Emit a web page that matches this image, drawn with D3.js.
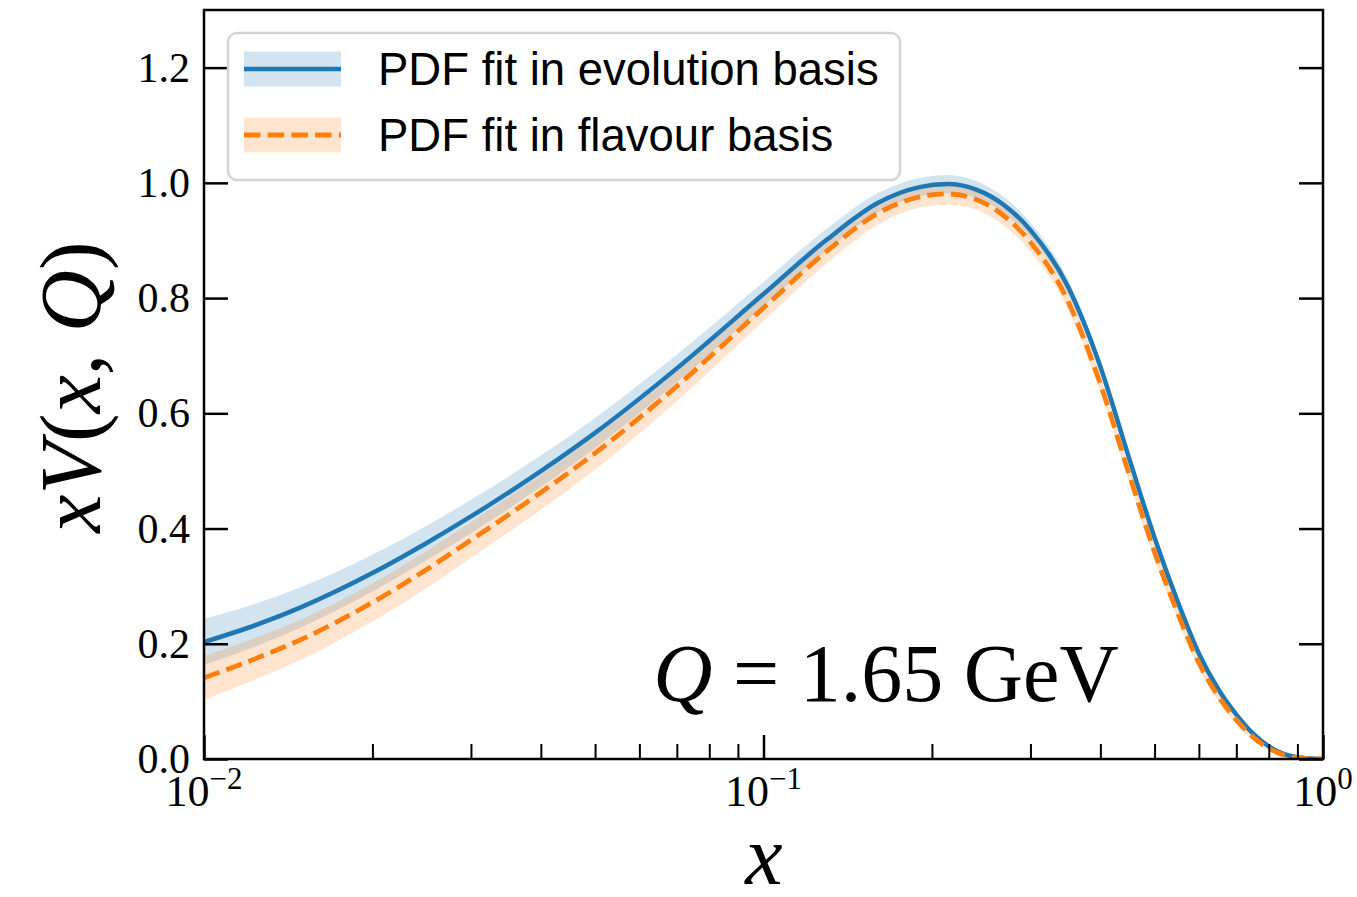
<!DOCTYPE html>
<html>
<head>
<meta charset="utf-8">
<script src="https://cdn.jsdelivr.net/npm/d3@7"></script>
<style>
  body { margin: 0; background: #fff; }
  .tick-label { font-family: "Liberation Serif", serif; fill: #000; }
  .legend-text { font-family: "Liberation Sans", Arial, sans-serif; font-size: 45.5px; fill: #000; }
</style>
</head>
<body>
<div class="chart"></div>
<script>
/*******************************/
/*            Data             */
/*******************************/

var xs = [0.01, 0.0125, 0.015, 0.02, 0.025, 0.03, 0.04, 0.05, 0.07, 0.1,
          0.13, 0.16, 0.19, 0.213, 0.24, 0.27, 0.3, 0.35, 0.4, 0.45,
          0.5, 0.55, 0.6, 0.65, 0.7, 0.75, 0.8, 0.85, 0.9, 0.95, 1.0];

// central values, evolution basis fit
var evol_cv = [0.203, 0.234, 0.2645, 0.3227, 0.375, 0.421, 0.4996, 0.566, 0.678, 0.807,
               0.902, 0.965, 0.9926, 0.9978, 0.9883, 0.9604, 0.918, 0.820, 0.681, 0.523,
               0.384, 0.273, 0.183, 0.121, 0.077, 0.044, 0.022, 0.009, 0.003, 0.0008, 0];
// one sigma half-width, evolution basis fit
var evol_err = [0.040, 0.037, 0.035, 0.032, 0.030, 0.029, 0.027, 0.026, 0.024, 0.021,
                0.019, 0.017, 0.016, 0.016, 0.015, 0.014, 0.013, 0.012, 0.011, 0.010,
                0.009, 0.008, 0.007, 0.006, 0.005, 0.004, 0.003, 0.002, 0.001, 0.0005, 0];

// central values, flavour basis fit
var flav_cv = [0.141, 0.176, 0.2085, 0.2717, 0.329, 0.380, 0.4626, 0.531, 0.647, 0.783,
               0.882, 0.947, 0.9756, 0.9808, 0.9713, 0.9414, 0.897, 0.795, 0.651, 0.495,
               0.359, 0.253, 0.167, 0.109, 0.068, 0.038, 0.0185, 0.0072, 0.0022, 0.0005, 0];
var flav_err = [0.038, 0.036, 0.035, 0.033, 0.032, 0.031, 0.030, 0.029, 0.026, 0.023,
                0.021, 0.020, 0.019, 0.019, 0.018, 0.017, 0.016, 0.015, 0.014, 0.013,
                0.012, 0.011, 0.010, 0.009, 0.008, 0.006, 0.004, 0.003, 0.002, 0.001, 0];

var y_ticks = [0.0, 0.2, 0.4, 0.6, 0.8, 1.0, 1.2];
var x_major = [0.01, 0.1, 1];
var x_major_exp = ["\u22122", "\u22121", "0"];
var x_minor = [0.02, 0.03, 0.04, 0.05, 0.06, 0.07, 0.08, 0.09,
               0.2, 0.3, 0.4, 0.5, 0.6, 0.7, 0.8, 0.9];

var legend_labels = ["PDF fit in evolution basis", "PDF fit in flavour basis"];
var blue = "#1f77b4", orange = "#ff7f0e";
var dash = "16.5,7.2";

/*******************************/
/*       Chart preparation     */
/*******************************/

var width = 1357, height = 897;
var margin = {left: 204, top: 10, right: 34, bottom: 138};
var pw = width - margin.left - margin.right,
    ph = height - margin.top - margin.bottom;

var x = d3.scaleLog().domain([0.01, 1]).range([0, pw]);
var y = d3.scaleLinear().domain([0, 1.3]).range([ph, 0]);

var svg = d3.select(".chart").append("svg")
  .attr("width", width)
  .attr("height", height);

var g = svg.append("g")
  .attr("transform", "translate(" + margin.left + "," + margin.top + ")");

g.append("clipPath").attr("id", "clip")
  .append("rect").attr("width", pw).attr("height", ph);

function rows(cv, err) {
  return xs.map(function(d, i) { return {x: d, v: cv[i], e: err[i]}; });
}

var area = d3.area()
  .x(function(d) { return x(d.x); })
  .y0(function(d) { return y(d.v - d.e); })
  .y1(function(d) { return y(d.v + d.e); })
  .curve(d3.curveMonotoneX);

var line = d3.line()
  .x(function(d) { return x(d.x); })
  .y(function(d) { return y(d.v); })
  .curve(d3.curveMonotoneX);

var plot = g.append("g").attr("clip-path", "url(#clip)");

var evol = rows(evol_cv, evol_err), flav = rows(flav_cv, flav_err);

plot.append("path").attr("d", area(evol)).attr("fill", blue).attr("fill-opacity", 0.2);
plot.append("path").attr("d", area(flav)).attr("fill", orange).attr("fill-opacity", 0.2);
plot.append("path").attr("d", line(evol)).attr("fill", "none")
  .attr("stroke", blue).attr("stroke-width", 4.5);
plot.append("path").attr("d", line(flav)).attr("fill", "none")
  .attr("stroke", orange).attr("stroke-width", 4.8)
  .attr("stroke-dasharray", dash);

/*******************************/
/*            Axes             */
/*******************************/

// ticks point inwards, labels drawn by hand
g.append("g").call(d3.axisLeft(y).tickValues(y_ticks).tickSize(-24).tickFormat(""))
  .call(function(a) { a.select(".domain").remove(); })
  .selectAll("line").attr("stroke-width", 2.5);
g.append("g").attr("transform", "translate(" + pw + ",0)")
  .call(d3.axisRight(y).tickValues(y_ticks).tickSize(-24).tickFormat(""))
  .call(function(a) { a.select(".domain").remove(); })
  .selectAll("line").attr("stroke-width", 2.5);
g.append("g").attr("transform", "translate(0," + ph + ")")
  .call(d3.axisBottom(x).tickValues(x_major).tickSize(-24).tickFormat(""))
  .call(function(a) { a.select(".domain").remove(); })
  .selectAll("line").attr("stroke-width", 2.5);
g.append("g").attr("transform", "translate(0," + ph + ")")
  .call(d3.axisBottom(x).tickValues(x_minor).tickSize(-15).tickFormat(""))
  .call(function(a) { a.select(".domain").remove(); })
  .selectAll("line").attr("stroke-width", 2);

g.append("rect").attr("width", pw).attr("height", ph)
  .attr("fill", "none").attr("stroke", "#000").attr("stroke-width", 2.5);

g.selectAll(".ylab").data(y_ticks).enter().append("text")
  .attr("class", "tick-label")
  .attr("x", -14)
  .attr("y", function(d) { return y(d) + 14; })
  .attr("text-anchor", "end")
  .style("font-size", "42px")
  .text(function(d) { return d.toFixed(1); });

var xl = g.selectAll(".xlab").data(x_major).enter().append("text")
  .attr("class", "tick-label")
  .attr("x", function(d) { return x(d); })
  .attr("y", ph + 47)
  .attr("text-anchor", "middle")
  .style("font-size", "44px");
xl.append("tspan").text("10");
xl.append("tspan").attr("dy", -17).style("font-size", "31px")
  .text(function(d, i) { return x_major_exp[i]; });

// axis titles
svg.append("text")
  .attr("class", "tick-label")
  .attr("x", 764).attr("y", 884)
  .attr("text-anchor", "middle")
  .style("font-size", "84px").style("font-style", "italic")
  .text("x");

var yt = svg.append("text")
  .attr("class", "tick-label")
  .attr("transform", "translate(100,387) rotate(-90)")
  .attr("text-anchor", "middle")
  .style("font-size", "86px");
yt.append("tspan").style("font-style", "italic").text("xV");
yt.append("tspan").text("(");
yt.append("tspan").style("font-style", "italic").text("x");
yt.append("tspan").text(", ");
yt.append("tspan").style("font-style", "italic").text("Q");
yt.append("tspan").text(")");

var qt = svg.append("text")
  .attr("class", "tick-label")
  .attr("x", 886).attr("y", 701)
  .attr("text-anchor", "middle")
  .style("font-size", "82px");
qt.append("tspan").style("font-style", "italic").text("Q");
qt.append("tspan").text(" = 1.65 GeV");

/*******************************/
/*           Legend            */
/*******************************/

var legend = svg.append("g");
legend.append("rect")
  .attr("x", 228).attr("y", 33).attr("width", 672).attr("height", 147)
  .attr("rx", 9)
  .attr("fill", "#fff").attr("fill-opacity", 0.8)
  .attr("stroke", "#d4d4d4").attr("stroke-width", 2.5);

var rows_y = [69, 135];
var cols = [blue, orange];
legend_labels.forEach(function(lab, i) {
  legend.append("rect")
    .attr("x", 244).attr("y", rows_y[i] - 17.5).attr("width", 97).attr("height", 35)
    .attr("fill", cols[i]).attr("fill-opacity", 0.2);
  legend.append("line")
    .attr("x1", 244).attr("x2", 341).attr("y1", rows_y[i]).attr("y2", rows_y[i])
    .attr("stroke", cols[i]).attr("stroke-width", i == 1 ? 4.8 : 4.5)
    .attr("stroke-dasharray", i == 1 ? dash : null);
  legend.append("text")
    .attr("class", "legend-text")
    .attr("x", 378).attr("y", rows_y[i] + 16)
    .text(lab);
});
</script>
</body>
</html>
